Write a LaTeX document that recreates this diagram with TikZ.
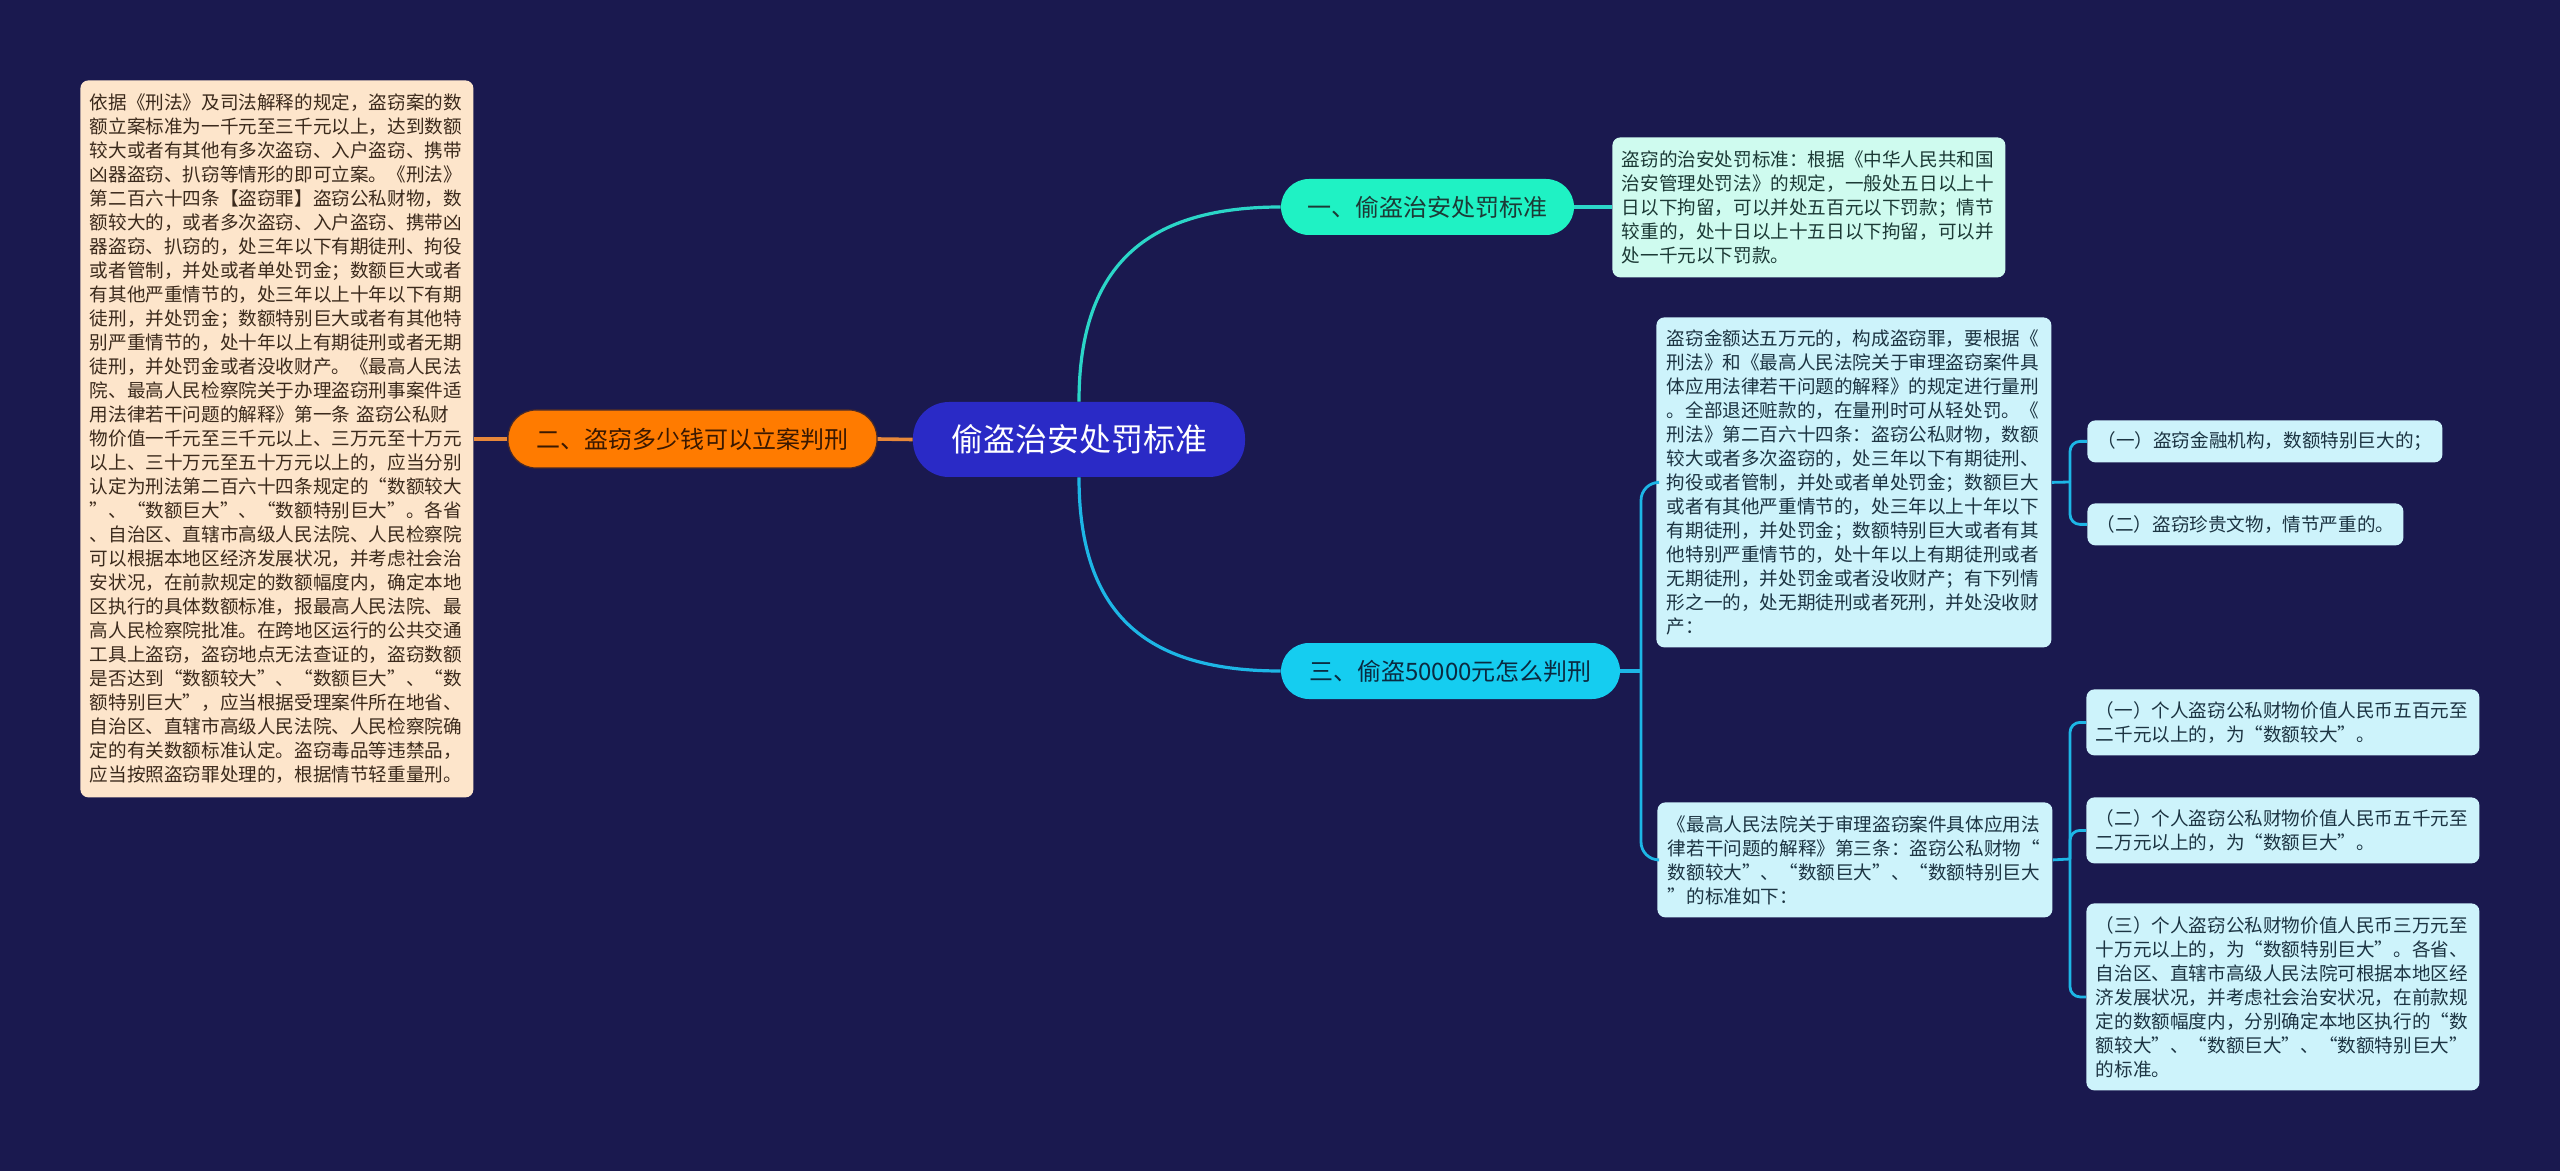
\documentclass[tikz,border=0pt]{standalone}
\usepackage{fontspec}
\newfontfamily\cjk{Noto Sans CJK SC}
\newfontfamily\cjkw[RawFeature=+fwid]{Noto Sans CJK SC}
\definecolor{bg}{HTML}{1A194F}
\definecolor{cmain}{HTML}{2A2AC6}
\definecolor{cone}{HTML}{1FF2C4}
\definecolor{ctwo}{HTML}{FF7B00}
\definecolor{cthree}{HTML}{15CDF0}
\definecolor{lone}{HTML}{2BD6C8}
\definecolor{ltwo}{HTML}{E8883A}
\definecolor{lthree}{HTML}{1DB6E6}
\definecolor{peach}{HTML}{FDE5CB}
\definecolor{mint}{HTML}{CFFBEF}
\definecolor{ice}{HTML}{CDF3FB}
\definecolor{tbrown}{HTML}{3B2A1C}
\definecolor{tteal}{HTML}{1C3A36}
\definecolor{tblue}{HTML}{1C3442}
\definecolor{obord}{HTML}{4A2A28}
\definecolor{otext}{HTML}{3A1800}
\definecolor{ctext}{HTML}{0A2A40}
\tikzset{
  txtbox/.style={rounded corners=4pt, anchor=north west, inner sep=0pt, align=left,
    font=\cjkw\fontsize{9.3pt}{12pt}\selectfont},
  onebox/.style={txtbox, align=center},
  pill/.style={rounded corners=14pt, inner sep=0pt, font=\cjk\fontsize{12pt}{14pt}\selectfont},
  lnone/.style={draw=lone, line width=1.6pt},
  lntwo/.style={draw=ltwo, line width=1.8pt},
  lnthree/.style={draw=lthree, line width=1.6pt},
  lnsub/.style={draw=lthree, line width=1.4pt, rounded corners=5pt},
  lnspine/.style={draw=lthree, line width=1.4pt, rounded corners=9pt},
}
\begin{document}
\begin{tikzpicture}[x=0.5pt,y=-0.5pt]
\fill[bg] (0,0) rectangle (2560,1171);
\useasboundingbox (0,0) rectangle (2560,1171);

% main and branch nodes
\node[fill=cmain, rounded corners=18pt, inner sep=0pt, minimum width=166pt, minimum height=37.5pt,
  text=white, font=\cjk\fontsize{16pt}{18pt}\selectfont] (c) at (1079,439.5) {偷盗治安处罚标准};
\node[pill, fill=cone, text=tteal, minimum width=146.5pt, minimum height=28pt] (b1) at (1427.5,207) {一、偷盗治安处罚标准};
\node[pill, fill=ctwo, draw=obord, line width=0.6pt, text=otext, minimum width=184.5pt, minimum height=29pt] (b2) at (692.5,439) {二、盗窃多少钱可以立案判刑};
\node[pill, fill=cthree, text=ctext, minimum width=169.5pt, minimum height=28pt] (b3) at (1450.5,671) {三、偷盗50000元怎么判刑};

% left box
\node[txtbox, fill=peach, text=tbrown, minimum width=196.5pt, minimum height=358.5pt, text width=187pt] (L) at (80,80) {%
依据《刑法》及司法解释的规定，盗窃案的数\\
额立案标准为一千元至三千元以上，达到数额\\
较大或者有其他有多次盗窃、入户盗窃、携带\\
凶器盗窃、扒窃等情形的即可立案。《刑法》\\
第二百六十四条【盗窃罪】盗窃公私财物，数\\
额较大的，或者多次盗窃、入户盗窃、携带凶\\
器盗窃、扒窃的，处三年以下有期徒刑、拘役\\
或者管制，并处或者单处罚金；数额巨大或者\\
有其他严重情节的，处三年以上十年以下有期\\
徒刑，并处罚金；数额特别巨大或者有其他特\\
别严重情节的，处十年以上有期徒刑或者无期\\
徒刑，并处罚金或者没收财产。《最高人民法\\
院、最高人民检察院关于办理盗窃刑事案件适\\
用法律若干问题的解释》第一条 盗窃公私财\\
物价值一千元至三千元以上、三万元至十万元\\
以上、三十万元至五十万元以上的，应当分别\\
认定为刑法第二百六十四条规定的“数额较大\\
”、“数额巨大”、“数额特别巨大”。各省\\
、自治区、直辖市高级人民法院、人民检察院\\
可以根据本地区经济发展状况，并考虑社会治\\
安状况，在前款规定的数额幅度内，确定本地\\
区执行的具体数额标准，报最高人民法院、最\\
高人民检察院批准。在跨地区运行的公共交通\\
工具上盗窃，盗窃地点无法查证的，盗窃数额\\
是否达到“数额较大”、“数额巨大”、“数\\
额特别巨大”，应当根据受理案件所在地省、\\
自治区、直辖市高级人民法院、人民检察院确\\
定的有关数额标准认定。盗窃毒品等违禁品，\\
应当按照盗窃罪处理的，根据情节轻重量刑。};

% top right box
\node[txtbox, fill=mint, text=tteal, minimum width=196.5pt, minimum height=70pt, text width=187pt] (T) at (1612,137) {%
盗窃的治安处罚标准：根据《中华人民共和国\\
治安管理处罚法》的规定，一般处五日以上十\\
日以下拘留，可以并处五百元以下罚款；情节\\
较重的，处十日以上十五日以下拘留，可以并\\
处一千元以下罚款。};

% middle right box
\node[txtbox, fill=ice, text=tblue, minimum width=197.5pt, minimum height=165pt, text width=187pt] (m1) at (1656,317) {%
盗窃金额达五万元的，构成盗窃罪，要根据《\\
刑法》和《最高人民法院关于审理盗窃案件具\\
体应用法律若干问题的解释》的规定进行量刑\\
。全部退还赃款的，在量刑时可从轻处罚。《\\
刑法》第二百六十四条：盗窃公私财物，数额\\
较大或者多次盗窃的，处三年以下有期徒刑、\\
拘役或者管制，并处或者单处罚金；数额巨大\\
或者有其他严重情节的，处三年以上十年以下\\
有期徒刑，并处罚金；数额特别巨大或者有其\\
他特别严重情节的，处十年以上有期徒刑或者\\
无期徒刑，并处罚金或者没收财产；有下列情\\
形之一的，处无期徒刑或者死刑，并处没收财\\
产：};

\node[onebox, fill=ice, text=tblue, minimum width=177.5pt, minimum height=21pt] (a1) at (2087,420) {（一）盗窃金融机构，数额特别巨大的；};
\node[onebox, fill=ice, text=tblue, minimum width=158pt, minimum height=21pt] (a2) at (2087,503) {（二）盗窃珍贵文物，情节严重的。};

% bottom middle box
\node[txtbox, fill=ice, text=tblue, minimum width=197.5pt, minimum height=57.5pt, text width=187pt] (m2) at (1657,802) {%
《最高人民法院关于审理盗窃案件具体应用法\\
律若干问题的解释》第三条：盗窃公私财物“\\
数额较大”、“数额巨大”、“数额特别巨大\\
”的标准如下：};

\node[txtbox, fill=ice, text=tblue, minimum width=196.5pt, minimum height=33pt, text width=187pt] (r1) at (2086,689) {%
（一）个人盗窃公私财物价值人民币五百元至\\
二千元以上的，为“数额较大”。};
\node[txtbox, fill=ice, text=tblue, minimum width=196.5pt, minimum height=33pt, text width=187pt] (r2) at (2086,797) {%
（二）个人盗窃公私财物价值人民币五千元至\\
二万元以上的，为“数额巨大”。};
\node[txtbox, fill=ice, text=tblue, minimum width=196.5pt, minimum height=93.5pt, text width=187pt] (r3) at (2086,903) {%
（三）个人盗窃公私财物价值人民币三万元至\\
十万元以上的，为“数额特别巨大”。各省、\\
自治区、直辖市高级人民法院可根据本地区经\\
济发展状况，并考虑社会治安状况，在前款规\\
定的数额幅度内，分别确定本地区执行的“数\\
额较大”、“数额巨大”、“数额特别巨大”\\
的标准。};

% connectors
\draw[lnone] (c.north) .. controls (1079,262) and (1150,207) .. (b1.west);
\draw[lnthree] (c.south) .. controls (1079,618) and (1150,671) .. (b3.west);
\draw[lntwo] (c.west) -- (b2.east);
\draw[lntwo] (b2.west) -- (L.east |- b2.west);
\draw[lnone] (b1.east) -- (T.west |- b1.east);

\coordinate (s3) at (1641,671);
\coordinate (s4) at (2070,482);
\coordinate (s5) at (2070,859);
\draw[lnthree] (b3.east) -- (s3);
\draw[lnspine] (s3) |- (m1.west);
\draw[lnspine] (s3) |- (m2.west);
\draw[lnsub] (m1.east) -- (s4);
\draw[lnsub] (s4) |- (a1.west);
\draw[lnsub] (s4) |- (a2.west);
\draw[lnsub] (m2.east) -- (s5);
\draw[lnsub] (s5) |- (r1.west);
\draw[lnsub] (s5) |- (r2.west);
\draw[lnsub] (s5) |- (r3.west);
\end{tikzpicture}
\end{document}
